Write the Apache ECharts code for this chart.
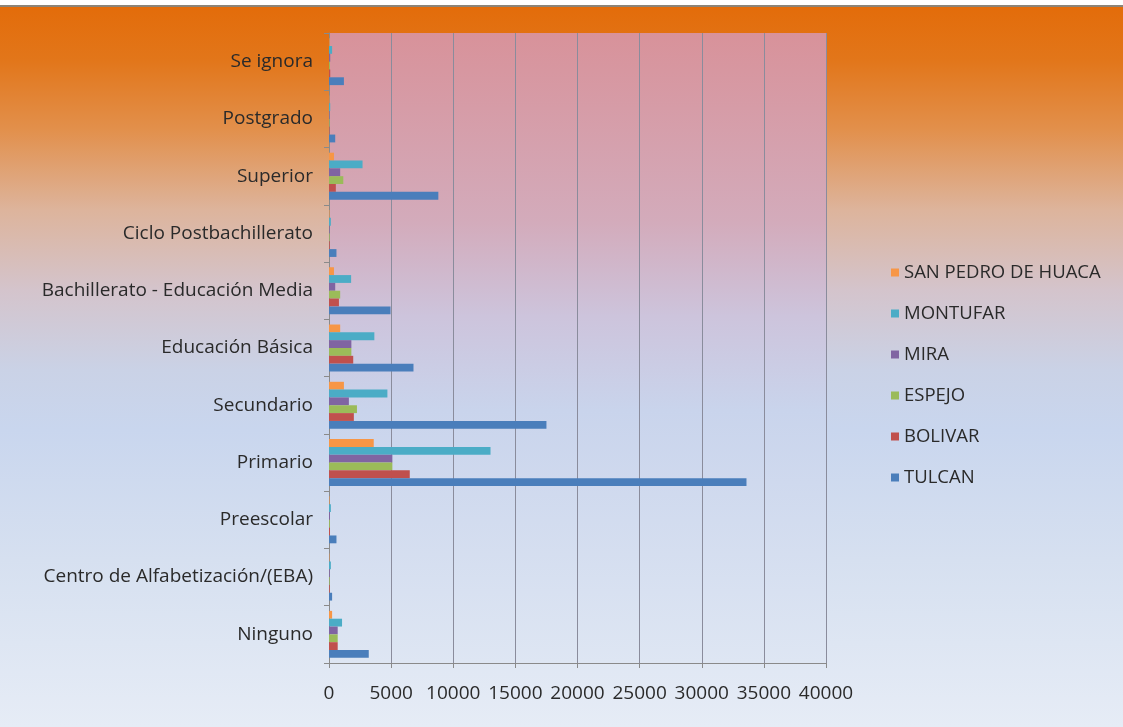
<!DOCTYPE html>
<html>
<head>
<meta charset="utf-8">
<script src="https://cdn.jsdelivr.net/npm/echarts@6/dist/echarts.min.js"></script>
<style>
html,body{margin:0;padding:0;background:#fff;}
#c{width:1123px;height:727px;
background:linear-gradient(to bottom,#ffffff 0px,#ffffff 5px,#8c8478 5px,#8c8478 7px,#e36c0a 7px,#e2761a 60px,#e2904c 130px,#ddb49c 210px,#d4c4cc 290px,#cad2e6 370px,#c9d6ee 430px,#d6e0f0 560px,#e6ecf6 727px);}
</style>
</head>
<body>
<div id="c"></div>
<script>
var categories = ['Ninguno','Centro de Alfabetización/(EBA)','Preescolar','Primario','Secundario','Educación Básica','Bachillerato - Educación Media','Ciclo Postbachillerato','Superior','Postgrado','Se ignora'];
var tulcan   = [3200, 250, 600, 33600, 17500, 6800, 4950, 600, 8800, 500, 1200];
var bolivar  = [700, 60, 80, 6500, 2000, 1950, 800, 60, 550, 40, 100];
var espejo   = [700, 50, 70, 5100, 2250, 1800, 900, 50, 1150, 40, 80];
var mira     = [700, 60, 80, 5100, 1600, 1800, 500, 50, 900, 40, 100];
var montufar = [1050, 150, 150, 13000, 4700, 3650, 1780, 150, 2700, 100, 250];
var sanPedro = [250, 30, 40, 3600, 1200, 900, 400, 40, 400, 30, 50];
// listed top-to-bottom within each category band
var seriesNames = ['SAN PEDRO DE HUACA','MONTUFAR','MIRA','ESPEJO','BOLIVAR','TULCAN'];
var seriesData = [sanPedro, montufar, mira, espejo, bolivar, tulcan];
var colors = ['#f79646','#4bacc6','#8064a2','#9bbb59','#c0504d','#4a7ebb'];
var xTicks = {min:0, max:40000, interval:5000};

var chart = echarts.init(document.getElementById('c'), null, {renderer:'canvas'});
var font = 'Open Sans';
chart.setOption({
  backgroundColor:'transparent',
  animation:false,
  color:colors,
  grid:{left:329, right:297, top:33, bottom:64, show:true, borderWidth:0,
    backgroundColor:new echarts.graphic.LinearGradient(0,0,0,1,[
      {offset:0,color:'#d8929a'},{offset:0.3,color:'#d3abbb'},{offset:0.45,color:'#cdc4dc'},
      {offset:0.6,color:'#c9d4ec'},{offset:1,color:'#dee6f3'}])},
  legend:{orient:'vertical', left:886, top:258, itemWidth:8, itemHeight:8, itemGap:22,
    icon:'rect', data:seriesNames,
    textStyle:{fontFamily:font, fontSize:18.5, color:'#2a2a2a'}},
  xAxis:{type:'value', min:xTicks.min, max:xTicks.max, interval:xTicks.interval,
    axisLine:{show:true, lineStyle:{color:'#8a8a8a'}},
    axisTick:{show:true, length:5, lineStyle:{color:'#8a8a8a'}},
    splitLine:{show:true, lineStyle:{color:'#8a8c9c', width:1}},
    axisLabel:{fontFamily:font, fontSize:19, color:'#2a2a2a', margin:21,
      formatter:function(v){return String(v);}}},
  yAxis:{type:'category', data:categories,
    axisLine:{show:true, lineStyle:{color:'#8a8a8a'}},
    axisTick:{show:true, length:5, lineStyle:{color:'#8a8a8a'}},
    axisLabel:{fontFamily:font, fontSize:19, color:'#2a2a2a', margin:16,
      padding:[6,0,0,0]}},
  series: seriesNames.map(function(n,i){
    return {name:n, type:'bar', data:seriesData[i], barGap:'0%', barCategoryGap:'18%'};
  })
});
</script>
</body>
</html>
